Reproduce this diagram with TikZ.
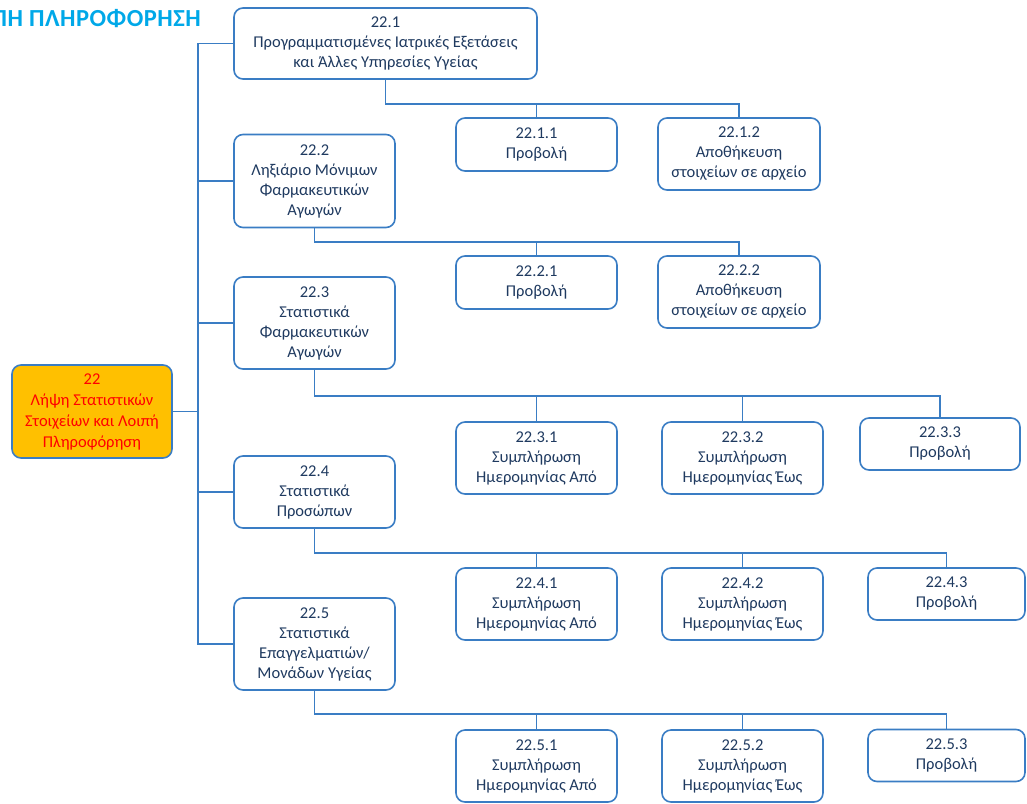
\documentclass[tikz,border=0pt]{standalone}
\usepackage{fontspec}
\setmainfont{Carlito}
\definecolor{bord}{HTML}{3A7DC4}
\definecolor{txt}{HTML}{1F3A60}
\definecolor{ttl}{HTML}{00A8E8}
\definecolor{orng}{HTML}{FFC000}
\tikzset{
  box/.style={draw=bord, line width=1.6pt, rounded corners=9pt, fill=white, text=txt,
    align=center, inner sep=2pt, font=\fontsize{16.5}{20}\selectfont},
  conn/.style={draw=bord, line width=1.6pt},
}
\begin{document}
\begin{tikzpicture}[x=1pt,y=-1pt]
\useasboundingbox (0,0) rectangle (1027,803);
\begin{scope}
\clip (0,0) rectangle (1027,803);
\node[anchor=east, text=ttl, inner sep=0pt, font=\fontsize{24.5}{28}\bfseries\addfontfeature{LetterSpace=2}] (title) at (201,19) {ΛΟΙΠΗ ΠΛΗΡΟΦΟΡΗΣΗ};
\end{scope}
% root
\node[box, fill=orng, text=red, minimum width=160pt, minimum height=93pt, font=\fontsize{16.5}{21}\selectfont] (n22) at (92,411.5) {22\\Λήψη Στατιστικών\\Στοιχείων και Λοιπή\\Πληροφόρηση};
% level 1
\node[box, minimum width=303pt, minimum height=71pt] (n1) at (385.5,43.5) {22.1\\Προγραμματισμένες Ιατρικές Εξετάσεις\\και Άλλες Υπηρεσίες Υγείας};
\node[box, minimum width=161pt, minimum height=93pt] (n2) at (314.5,181) {22.2\\Ληξιάριο Μόνιμων\\Φαρμακευτικών\\Αγωγών};
\node[box, minimum width=161pt, minimum height=92pt] (n3) at (314.5,323) {22.3\\Στατιστικά\\Φαρμακευτικών\\Αγωγών};
\node[box, minimum width=161pt, minimum height=72pt] (n4) at (314.5,492) {22.4\\Στατιστικά\\Προσώπων};
\node[box, minimum width=161pt, minimum height=92pt] (n5) at (314.5,644) {22.5\\Στατιστικά\\Επαγγελματιών/\\Μονάδων Υγείας};
% level 2
\node[box, minimum width=161pt, minimum height=53pt] (c11) at (536.5,144.5) {22.1.1\\Προβολή};
\node[box, minimum width=162pt, minimum height=72pt] (c12) at (739,154) {22.1.2\\Αποθήκευση\\στοιχείων σε αρχείο};
\node[box, minimum width=161pt, minimum height=53pt] (c21) at (536.5,282.5) {22.2.1\\Προβολή};
\node[box, minimum width=162pt, minimum height=72pt] (c22) at (739,292) {22.2.2\\Αποθήκευση\\στοιχείων σε αρχείο};
\node[box, minimum width=161pt, minimum height=72pt] (c31) at (536.5,458) {22.3.1\\Συμπλήρωση\\Ημερομηνίας Από};
\node[box, minimum width=161pt, minimum height=72pt] (c32) at (742.5,458) {22.3.2\\Συμπλήρωση\\Ημερομηνίας Έως};
\node[box, minimum width=160pt, minimum height=52pt] (c33) at (940,444) {22.3.3\\Προβολή};
\node[box, minimum width=161pt, minimum height=72pt] (c41) at (536.5,604) {22.4.1\\Συμπλήρωση\\Ημερομηνίας Από};
\node[box, minimum width=161pt, minimum height=72pt] (c42) at (742.5,604) {22.4.2\\Συμπλήρωση\\Ημερομηνίας Έως};
\node[box, minimum width=157pt, minimum height=52pt] (c43) at (946.5,594) {22.4.3\\Προβολή};
\node[box, minimum width=161pt, minimum height=72pt] (c51) at (536.5,766) {22.5.1\\Συμπλήρωση\\Ημερομηνίας Από};
\node[box, minimum width=161pt, minimum height=72pt] (c52) at (742.5,766) {22.5.2\\Συμπλήρωση\\Ημερομηνίας Έως};
\node[box, minimum width=157pt, minimum height=52pt] (c53) at (946.5,755.5) {22.5.3\\Προβολή};
% trunk
\coordinate (tr) at (198,0);
\draw[conn] (n1.west) -- (n1.west -| tr) -- (n5.west -| tr) -- (n5.west);
\draw[conn] (n2.west) -- (n2.west -| tr);
\draw[conn] (n3.west) -- (n3.west -| tr);
\draw[conn] (n4.west) -- (n4.west -| tr);
\draw[conn] (n22.east) -- (n22.east -| tr);
% group 1
\coordinate (b1) at (0,104);
\draw[conn] (n1.south) -- (n1.south |- b1) -| (c12.north);
\draw[conn] (c11.north) -- (c11.north |- b1);
% group 2
\coordinate (b2) at (0,242);
\draw[conn] (n2.south) -- (n2.south |- b2) -| (c22.north);
\draw[conn] (c21.north) -- (c21.north |- b2);
% group 3
\coordinate (b3) at (0,396);
\draw[conn] (n3.south) -- (n3.south |- b3) -| (c33.north);
\draw[conn] (c31.north) -- (c31.north |- b3);
\draw[conn] (c32.north) -- (c32.north |- b3);
% group 4
\coordinate (b4) at (0,553);
\draw[conn] (n4.south) -- (n4.south |- b4) -| (c43.north);
\draw[conn] (c41.north) -- (c41.north |- b4);
\draw[conn] (c42.north) -- (c42.north |- b4);
% group 5
\coordinate (b5) at (0,714);
\draw[conn] (n5.south) -- (n5.south |- b5) -| (c53.north);
\draw[conn] (c51.north) -- (c51.north |- b5);
\draw[conn] (c52.north) -- (c52.north |- b5);
\end{tikzpicture}
\end{document}
